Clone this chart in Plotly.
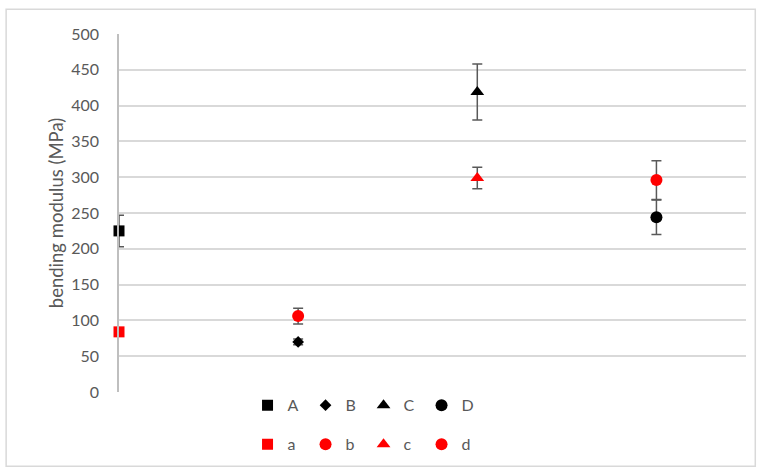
"""Bending modulus per sample group, upper and lower case series."""
import plotly.graph_objects as go

# sample positions along the hidden x axis
positions = [0, 1, 2, 3]

upper_names = ["A", "B", "C", "D"]
upper_values = [225, 70, 419, 244]
upper_errors = [22, 4, 39, 24]

lower_names = ["a", "b", "c", "d"]
lower_values = [84, 106, 299, 296]
lower_errors = [3, 11, 15, 27]

symbols_upper = ["square", "diamond", "triangle-up", "circle"]
symbols_lower = ["square", "circle", "triangle-up", "circle"]
sizes_upper = [11, 9, 12, 12]
sizes_lower = [11, 12, 12, 12]

y_title = "bending modulus (MPa)"

font_family = "Lato, 'Open Sans', sans-serif"
grey_text = "#595959"
err_color = "#595959"


def add_series(fig, names, values, errors, symbols, sizes, color, legend):
    for i, name in enumerate(names):
        fig.add_trace(
            go.Scatter(
                x=[positions[i]],
                y=[values[i]],
                name=name,
                mode="markers",
                marker=dict(symbol=symbols[i], size=sizes[i], color=color),
                error_y=dict(
                    type="data",
                    array=[errors[i]],
                    color=err_color,
                    thickness=1.5,
                    width=5,
                ),
                cliponaxis=False,
                legend=legend,
            )
        )


fig = go.Figure()
add_series(fig, upper_names, upper_values, upper_errors,
           symbols_upper, sizes_upper, "black", "legend")
add_series(fig, lower_names, lower_values, lower_errors,
           symbols_lower, sizes_lower, "#ff0000", "legend2")

legend_style = dict(
    orientation="h",
    xanchor="left",
    yanchor="top",
    entrywidth=13,
    entrywidthmode="pixels",
    font=dict(family=font_family, size=16, color=grey_text),
    bgcolor="rgba(0,0,0,0)",
    tracegroupgap=0,
)

fig.update_layout(
    width=768,
    height=475,
    margin=dict(l=119, r=22, t=34, b=83, autoexpand=False),
    paper_bgcolor="white",
    plot_bgcolor="white",
    font=dict(family=font_family, color=grey_text),
    legend=dict(x=0.205, y=0.0103, **legend_style),
    legend2=dict(x=0.205, y=-0.0986, **legend_style),
    xaxis=dict(
        range=[0, 3.5],
        showticklabels=False,
        showgrid=False,
        zeroline=False,
        showline=False,
        ticks="",
        fixedrange=True,
    ),
    yaxis=dict(
        range=[0, 500],
        dtick=50,
        showgrid=True,
        gridcolor="#d9d9d9",
        gridwidth=1.5,
        zeroline=False,
        showline=True,
        linecolor="#bfbfbf",
        linewidth=1.5,
        ticks="",
        ticklabelstandoff=15,
        tickfont=dict(family=font_family, size=16, color=grey_text),
        title=dict(
            text=y_title,
            font=dict(family=font_family, size=18.5, color=grey_text),
            standoff=3,
        ),
    ),
    shapes=[
        dict(
            type="rect",
            xref="paper",
            yref="paper",
            x0=-0.18,
            x1=1.0148,
            y0=-0.2076,
            y1=1.069,
            line=dict(color="#d9d9d9", width=1.5),
            layer="below",
        )
    ],
)

fig.write_html(
    "out.html",
    config={"displayModeBar": False},
    post_script="document.body.style.margin = '0';",
)
